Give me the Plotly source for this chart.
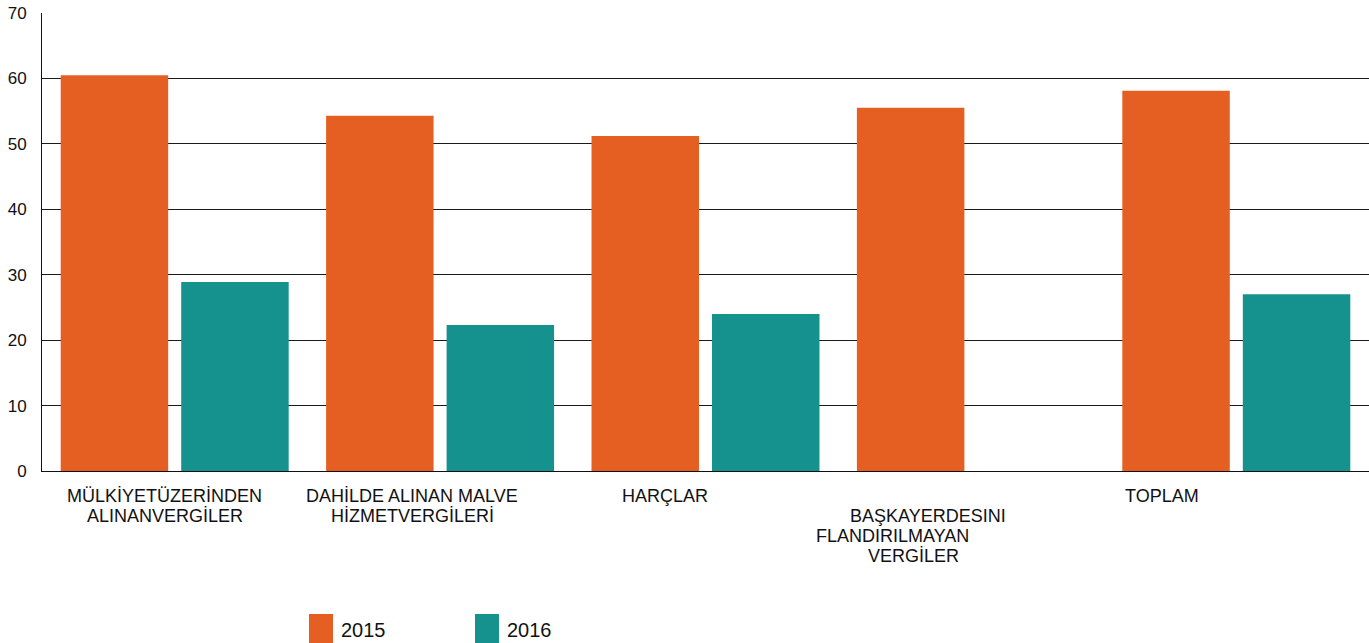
import plotly.graph_objects as go

categories = ["MÜLKİYETÜZERİNDEN ALINANVERGİLER", "DAHİLDE ALINAN MALVE HİZMETVERGİLERİ",
              "HARÇLAR", "BAŞKAYERDESINI FLANDIRILMAYAN VERGİLER", "TOPLAM"]
values_2015 = [60.5, 54.3, 51.2, 55.5, 58.1]
values_2016 = [28.9, 22.3, 24.0, None, 27.0]
series_names = ["2015", "2016"]
colors = ["#E65F22", "#16928E"]

# x-axis label lines per category (category, text, xshift, line index)
label_lines = [
    (0, "MÜLKİYETÜZERİNDEN", -10, 0),
    (0, "ALINANVERGİLER", -10, 1),
    (1, "DAHİLDE ALINAN MALVE", -28, 0),
    (1, "HİZMETVERGİLERİ", -28, 1),
    (2, "HARÇLAR", -41, 0),
    (3, "BAŞKAYERDESINI", -43, 1),
    (3, "FLANDIRILMAYAN", -78, 2),
    (3, "VERGİLER", -57, 3),
    (4, "TOPLAM", -74, 0),
]

font_family = "Liberation Sans, Arial, sans-serif"

fig = go.Figure()
fig.add_trace(go.Bar(x=categories, y=values_2015, name=series_names[0],
                     marker=dict(color=colors[0], line=dict(width=0))))
fig.add_trace(go.Bar(x=categories, y=values_2016, name=series_names[1],
                     marker=dict(color=colors[1], line=dict(width=0))))

annotations = []
for ci, txt, xs, li in label_lines:
    annotations.append(dict(x=categories[ci], xref="x", y=0, yref="paper",
                            text=txt, showarrow=False, xanchor="center", yanchor="top",
                            xshift=xs, yshift=-13 - 20 * li,
                            font=dict(size=18, color="#111", family=font_family)))

shapes = []
legend_x = [267, 433]
for i, name in enumerate(series_names):
    shapes.append(dict(type="rect", xref="paper", yref="paper",
                       xsizemode="pixel", ysizemode="pixel", xanchor=0, yanchor=0,
                       x0=legend_x[i], x1=legend_x[i] + 24, y0=-143, y1=-175,
                       fillcolor=colors[i], line=dict(width=0)))
    annotations.append(dict(x=0, xref="paper", y=0, yref="paper", text=name,
                            showarrow=False, xanchor="left", yanchor="top",
                            xshift=legend_x[i] + 30, yshift=-146,
                            font=dict(size=20, color="#111", family=font_family)))

fig.update_layout(
    width=1369, height=643,
    margin=dict(l=42, r=0, t=13, b=172, autoexpand=False),
    paper_bgcolor="white", plot_bgcolor="white",
    barmode="group", bargap=0.092, bargroupgap=0.108,
    showlegend=False,
    annotations=annotations, shapes=shapes,
    font=dict(family=font_family, color="#111"),
)
fig.update_xaxes(showticklabels=False, showgrid=False, showline=True,
                 linecolor="#111", linewidth=1, ticks="", automargin=False)
fig.update_yaxes(range=[0, 70], dtick=10, showgrid=True, gridcolor="#1a1a1a",
                 gridwidth=1, showline=True, linecolor="#111", linewidth=1,
                 zeroline=False, ticks="", ticklabelstandoff=11, automargin=False,
                 ticklabeloverflow="allow",
                 tickfont=dict(size=17, color="#111", family=font_family))

fig.write_html("out.html", config={"displayModeBar": False},
               post_script="document.body.style.margin='0';document.body.style.overflow='hidden';")
